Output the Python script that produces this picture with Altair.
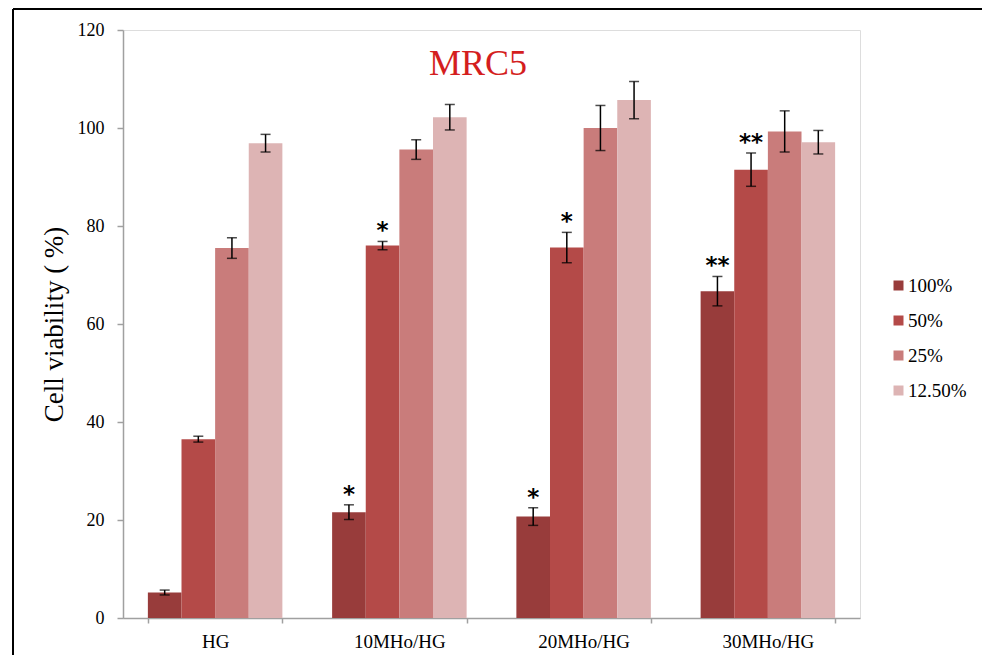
import altair as alt
import pandas as pd

groups = ["HG", "10MHo/HG", "20MHo/HG", "30MHo/HG"]
concs = ["100%", "50%", "25%", "12.50%"]
colors = ["#983c3b", "#b44a48", "#c97c7b", "#ddb4b4"]

v100 = [5.2, 21.6, 20.7, 66.7]
v50 = [36.5, 76.0, 75.6, 91.5]
v25 = [75.5, 95.6, 100.0, 99.3]
v12 = [96.9, 102.2, 105.7, 97.1]

e100 = [0.5, 1.5, 1.8, 3.0]
e50 = [0.6, 0.85, 3.1, 3.4]
e25 = [2.1, 2.0, 4.6, 4.2]
e12 = [1.8, 2.6, 3.8, 2.4]

s100 = ["", "*", "*", "**"]
s50 = ["", "*", "*", "**"]
s25 = ["", "", "", ""]
s12 = ["", "", "", ""]

y_ticks = [0, 20, 40, 60, 80, 100, 120]

rows = []
for conc, vals, errs, sigs in zip(concs, [v100, v50, v25, v12], [e100, e50, e25, e12], [s100, s50, s25, s12]):
    for g, v, e, s in zip(groups, vals, errs, sigs):
        rows.append({"group": g, "conc": conc, "value": v, "err": e, "sig": s})
df = pd.DataFrame(rows)

FONT = "Liberation Serif"
YTITLE = "Cell viability ( %)"

x = alt.X(
    "group:N",
    sort=groups,
    scale=alt.Scale(paddingInner=0.27, paddingOuter=0.135),
    axis=alt.Axis(
        title=None, labelAngle=0, labelFontSize=19, labelColor="black",
        labelPadding=9, tickBand="extent", tickSize=5,
        domainColor="#a0a0a0", tickColor="#a0a0a0", domainWidth=1.5, tickWidth=1.5,
        labelFont=FONT,
    ),
)
xo = alt.XOffset("conc:N", sort=concs, scale=alt.Scale(paddingInner=0, paddingOuter=0))
yscale = alt.Scale(domain=[0, 120], nice=False)

base = alt.Chart(df)

bars = base.mark_bar().encode(
    x=x,
    xOffset=xo,
    y=alt.Y(
        "value:Q", scale=yscale, title=YTITLE,
        axis=alt.Axis(
            values=y_ticks, grid=False, labelFontSize=18, labelColor="black",
            labelFont=FONT, tickSize=6, labelPadding=13,
            domainColor="#a0a0a0", domainWidth=1.5, tickColor="#a0a0a0", tickWidth=1.5,
            titleFontSize=27, titleFontWeight="normal", titleColor="black",
            titleFont=FONT, titlePadding=9,
        ),
    ),
    color=alt.Color(
        "conc:N", sort=concs,
        scale=alt.Scale(domain=concs, range=colors),
        legend=alt.Legend(
            title=None, orient="none", legendX=766, legendY=246,
            symbolType="square", symbolSize=100, symbolStrokeWidth=0,
            labelFontSize=19, labelFont=FONT, labelColor="black",
            rowPadding=15, labelOffset=0,
        ),
    ),
)

eb = base.transform_calculate(lo="datum.value - datum.err", hi="datum.value + datum.err")

rules = eb.mark_rule(color="black", strokeWidth=1.5).encode(
    x=x, xOffset=xo, y=alt.Y("lo:Q", scale=yscale, title=YTITLE), y2="hi:Q"
)
cap_hi = eb.mark_tick(color="black", thickness=1.5, size=10).encode(
    x=x, xOffset=xo, y=alt.Y("hi:Q", scale=yscale, title=YTITLE)
)
cap_lo = eb.mark_tick(color="black", thickness=1.5, size=10).encode(
    x=x, xOffset=xo, y=alt.Y("lo:Q", scale=yscale, title=YTITLE)
)
stars = eb.transform_filter("datum.sig != ''").mark_text(
    font="DejaVu Sans", fontSize=23, fontWeight="bold", baseline="alphabetic", dy=-3, color="black"
).encode(
    x=x, xOffset=xo, y=alt.Y("hi:Q", scale=yscale, title=YTITLE), text="sig:N"
)

title = alt.Chart(pd.DataFrame({"t": ["MRC5"]})).mark_text(
    font=FONT, fontSize=36, color="#d41e1e", align="center", baseline="alphabetic"
).encode(x=alt.value(355), y=alt.value(45), text="t:N")

frame_df = pd.DataFrame({"f": [0]})
frame_top = alt.Chart(frame_df).mark_rule(color="black", strokeWidth=2).encode(
    x=alt.value(-110), x2=alt.value(860), y=alt.value(-21)
)
frame_left = alt.Chart(frame_df).mark_rule(color="black", strokeWidth=2).encode(
    x=alt.value(-110), y=alt.value(-21), y2=alt.value(640)
)

chart = alt.layer(
    bars, rules, cap_hi, cap_lo, stars, title, frame_top, frame_left
).properties(
    width=737, height=588,
    autosize=alt.AutoSizeParams(type="none"),
    padding={"left": 115, "top": 22, "right": 122, "bottom": 37},
    background="white",
).configure_view(
    stroke="#333333", strokeWidth=1.5
).configure(font=FONT)

chart.save("out.html", embed_options={"renderer": "svg", "actions": False})
